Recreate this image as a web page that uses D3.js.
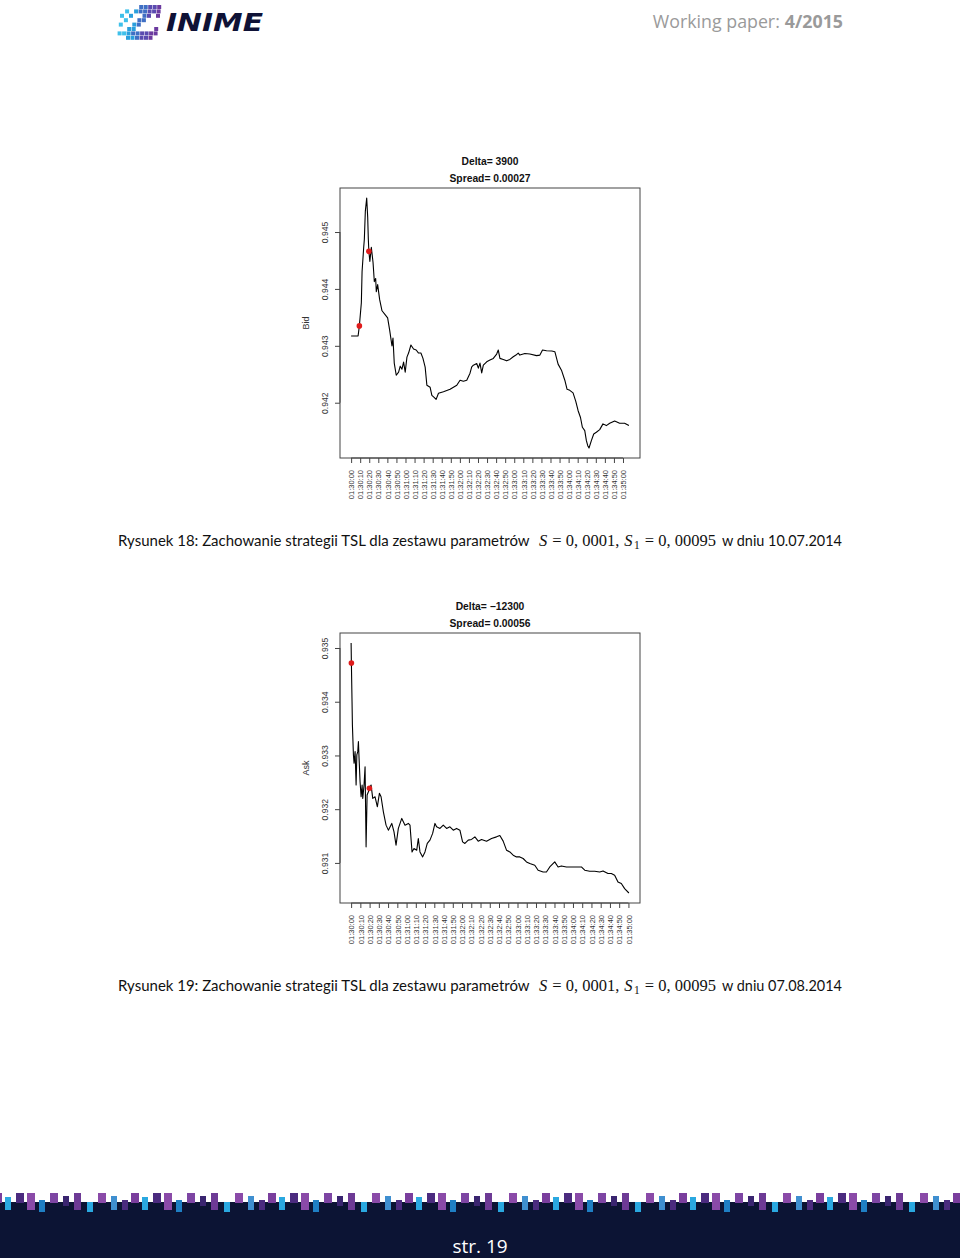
<!DOCTYPE html>
<html><head><meta charset="utf-8">
<script src="https://cdn.jsdelivr.net/npm/d3@7"></script>
<style>body{margin:0;background:#fff}svg{display:block}</style>
</head><body><svg id="page" width="960" height="1258"></svg>
<script>
// ---------- data ----------
const xTickSeconds = d3.range(0, 301, 10);
const xTickLabels = xTickSeconds.map(s => {
  const m = 30 + Math.floor(s / 60), sec = s % 60;
  return "01:" + String(m).padStart(2, "0") + ":" + String(sec).padStart(2, "0");
});

const bidSeconds = [0,7.7,9.1,11.3,12.1,13.9,14.6,15.7,17.2,18.3,19.0,19.6,20.7,22.3,24.2,25.6,27.1,27.8,29.3,31.5,34.1,37.7,40.3,42.5,45.1,46.2,47.6,49.8,52.4,54.2,56.1,57.9,59.7,61.6,63.4,66.0,68.9,71.8,74.4,77.0,79.2,81.7,83.6,87.2,89.1,91.6,93.8,96.4,101.9,109.2,112.9,116.6,120.2,123.9,127.6,131.2,133.1,134.9,138.6,140.4,142.2,144.1,145.9,149.6,153.2,156.9,160.6,162.4,164.2,167.9,171.6,175.2,178.9,181.9,184.4,186.2,191.7,197.2,204.6,208.3,211.2,215.6,221.5,224.8,228.4,232.1,235.8,238.3,241.3,244.9,247.9,250.4,253.1,255.2,257.8,259.6,261.1,262.5,265.1,267.7,270.6,274.3,277.9,281.6,285.3,290.8,296.3,301.8,306.5];
const bidPrice = [0.943173,0.943173,0.943350,0.943758,0.944306,0.944731,0.944873,0.945368,0.945598,0.945262,0.944873,0.944660,0.944483,0.944731,0.944465,0.944129,0.944182,0.943952,0.944076,0.943811,0.943616,0.943545,0.943492,0.943280,0.942996,0.943138,0.942696,0.942483,0.942537,0.942642,0.942589,0.942713,0.942537,0.942802,0.942873,0.943014,0.942943,0.942926,0.942873,0.942873,0.942784,0.942625,0.942306,0.942271,0.942129,0.942094,0.942058,0.942165,0.942191,0.942235,0.942271,0.942306,0.942395,0.942377,0.942395,0.942519,0.942630,0.942660,0.942690,0.942607,0.942696,0.942524,0.942660,0.942719,0.942749,0.942779,0.942855,0.942926,0.942779,0.942761,0.942736,0.942761,0.942807,0.942837,0.942873,0.942837,0.942864,0.942855,0.942828,0.942837,0.942926,0.942913,0.942908,0.942896,0.942678,0.942572,0.942395,0.942235,0.942218,0.942173,0.942023,0.941864,0.941740,0.941568,0.941510,0.941333,0.941244,0.941204,0.941333,0.941451,0.941480,0.941527,0.941628,0.941598,0.941639,0.941678,0.941639,0.941639,0.941598];
const bidMarkSeconds = [9.1, 19.6];
const bidMarkPrice = [0.94335, 0.94466];
const bidTicks = [0.942, 0.943, 0.944, 0.945];

const askSeconds = [0,0.3,1.0,1.4,2.5,3.2,4.3,5.4,6.2,7.2,7.9,8.6,9.7,10.8,11.9,12.6,14.0,15.1,16.2,17.3,18.7,19.8,21.6,23.4,25.9,28.4,30.6,32.4,34.9,37.8,40.3,44.0,46.4,48.6,51.1,54.8,58.3,61.9,63.7,65.9,68.0,71.0,72.7,74.5,77.4,79.9,82.4,85.3,88.2,90.7,92.5,96.1,99.7,103.3,106.9,110.5,114.1,117.7,120.6,123.1,126.7,130.3,133.9,137.5,141.1,146.5,151.9,157.3,160.9,164.5,168.1,171.7,175.3,178.9,182.5,186.1,189.7,193.3,198.7,202.3,207.7,211.3,214.9,220.3,223.9,227.5,232.9,238.3,243.7,249.1,252.7,258.1,263.5,268.9,272.5,277.9,281.5,285.1,288.7,292.3,295.9,300.5];
const askPrice = [0.935093,0.934720,0.934000,0.933569,0.933009,0.932855,0.933071,0.932450,0.933009,0.933071,0.933257,0.932948,0.932511,0.932231,0.932450,0.932201,0.932450,0.932791,0.931299,0.932263,0.932325,0.932388,0.932450,0.932201,0.932231,0.932045,0.932295,0.932231,0.931951,0.931703,0.931610,0.931735,0.931578,0.931330,0.931642,0.931828,0.931703,0.931735,0.931703,0.931205,0.931269,0.931237,0.931455,0.931205,0.931112,0.931205,0.931362,0.931424,0.931549,0.931735,0.931672,0.931642,0.931703,0.931642,0.931672,0.931610,0.931642,0.931610,0.931392,0.931362,0.931424,0.931437,0.931485,0.931405,0.931437,0.931405,0.931455,0.931485,0.931511,0.931405,0.931237,0.931205,0.931144,0.931112,0.931112,0.931082,0.931019,0.930989,0.930957,0.930864,0.930832,0.930832,0.930925,0.931019,0.930925,0.930944,0.930925,0.930925,0.930925,0.930925,0.930864,0.930845,0.930845,0.930832,0.930851,0.930802,0.930802,0.930771,0.930646,0.930616,0.930522,0.930440];
const askMarkSeconds = [0.3, 19.8];
const askMarkPrice = [0.93472, 0.932388];
const askTicks = [0.931, 0.932, 0.933, 0.934, 0.935];

// header / footer decoration
const logoCells = [ // [col,row,color]
  [4,0,2],[5,0,2],[6,0,3],[7,0,3],[8,0,4],[3,1,1],[4,1,2],[5,1,2],[6,1,3],[7,1,3],[8,1,4],
  [8,2,4],[1,1,0],[0,2,0],[2,2,1],[5,2,2],[6,2,3],[4,3,2],[5,3,2],[1,3,0],[3,4,1],[4,4,2],
  [0,4,0],[2,5,1],[3,5,1],[8,5,4],[1,6,0],[2,6,1],[3,6,2],[4,6,2],[5,6,3],[6,6,3],[7,6,4],[8,6,4],
  [2,7,1],[3,7,1],[4,7,2],[5,7,3],[6,7,3],[7,7,4],[0,6,0]
];
const logoColors = ["#3fc0ea", "#2a9fdc", "#3f6fc4", "#5a4bb0", "#6b3a9f"];
const footerBars = [ // [offset,width,top,height,color]
  [0,8,1193,10,"#7a3e9d"],[11,6,1197,13,"#2aa8e0"],[22,8,1193,10,"#4b2b7f"],[33,8,1193,17,"#8a4aa8"],
  [45,6,1200,12,"#1f7fc4"],[56,8,1193,10,"#7d45a3"],[69,6,1196,10,"#3a2570"],[80,7,1193,17,"#6d3a95"],
  [93,6,1202,10,"#2aa8e0"],[104,8,1193,10,"#8a4aa8"],[117,6,1196,14,"#3f8fd0"],[128,6,1200,10,"#4b2b7f"]
];
const footerPeriod = 137;

// ---------- drawing ----------
const svg = d3.select("#page");
svg.append("rect").attr("width", 960).attr("height", 1258).attr("fill", "#fff");

// header logo
const logo = svg.append("g").attr("transform", "translate(117,5)");
logo.selectAll("rect").data(logoCells).join("rect")
  .attr("x", d => d[0] * 4.5 + (7 - d[1]) * 0.6).attr("y", d => d[1] * 4.4)
  .attr("width", 4).attr("height", 4).attr("fill", d => logoColors[d[2]]);
svg.append("text").attr("x", 166).attr("y", 31).text("INIME")
  .attr("font-family", "'DejaVu Sans'").attr("font-weight", "bold").attr("font-style", "italic")
  .attr("font-size", 25).attr("fill", "#0f1236").attr("textLength", 97).attr("lengthAdjust", "spacingAndGlyphs");

const h2 = svg.append("text").attr("x", 843).attr("y", 28).attr("text-anchor", "end").attr("font-family", "'Open Sans'")
  .attr("font-size", 17.8).attr("font-weight", "bold").attr("fill", "#9a9a9a").text("4/2015");
const h2w = h2.node().getComputedTextLength();
svg.append("text").attr("x", 843 - h2w - 5).attr("y", 28).attr("text-anchor", "end").attr("font-family", "'Open Sans'")
  .attr("font-size", 17.8).attr("fill", "#9a9a9a").text("Working paper:");

function drawPanel(cfg) {
  const { left, top, width, height, times, values, markT, markV, yTicks, yLabel, title1, title2 } = cfg;
  const g = svg.append("g");
  const [t0, t1] = d3.extent(times), tp = (t1 - t0) * 0.04;
  const [v0, v1] = d3.extent(values), vp = (v1 - v0) * 0.04;
  const x = d3.scaleLinear().domain([t0 - tp, t1 + tp]).range([left, left + width]);
  const y = d3.scaleLinear().domain([v0 - vp, v1 + vp]).range([top + height, top]);

  const cx = left + width / 2;
  [[title1, top - 23], [title2, top - 6]].forEach(([t, yy]) => {
    g.append("text").attr("x", cx).attr("y", yy).attr("text-anchor", "middle")
      .attr("font-family", "'Liberation Sans', Arial, sans-serif").attr("font-weight", "bold")
      .attr("font-size", 10.3).attr("fill", "#111").text(t);
  });

  const pts = times.map((t, i) => [t, values[i]]);
  g.append("path").datum(pts)
    .attr("d", d3.line().x(d => x(d[0])).y(d => y(d[1])))
    .attr("fill", "none").attr("stroke", "#000").attr("stroke-width", 1.1).attr("stroke-linejoin", "round");

  g.selectAll("circle.mk").data(markT.map((t, i) => [t, markV[i]])).join("circle")
    .attr("class", "mk").attr("cx", d => x(d[0])).attr("cy", d => y(d[1])).attr("r", 2.8)
    .attr("fill", "#e01b1b");

  g.append("rect").attr("x", left).attr("y", top).attr("width", width).attr("height", height)
    .attr("fill", "none").attr("stroke", "#444").attr("stroke-width", 1);

  const ya = g.append("g").attr("transform", `translate(${left},0)`)
    .call(d3.axisLeft(y).tickValues(yTicks).tickFormat(d3.format(".3f")).tickSize(5).tickSizeOuter(0));
  ya.select(".domain").remove();
  ya.selectAll(".tick line").attr("stroke", "#444");
  ya.selectAll(".tick text").attr("x", null).attr("dy", null)
    .attr("transform", "translate(-12.5,0) rotate(-90)").attr("text-anchor", "middle")
    .attr("font-family", "'Liberation Sans', Arial, sans-serif").attr("font-size", 8.6).attr("fill", "#333");
  g.append("line")
    .attr("x1", left).attr("x2", left).attr("y1", y(yTicks[0])).attr("y2", y(yTicks[yTicks.length - 1]))
    .attr("stroke", "#444");

  const xa = g.append("g").attr("transform", `translate(0,${top + height})`)
    .call(d3.axisBottom(x).tickValues(xTickSeconds).tickFormat((d, i) => xTickLabels[i]).tickSize(5).tickSizeOuter(0));
  xa.select(".domain").remove();
  xa.selectAll(".tick line").attr("stroke", "#444");
  xa.selectAll(".tick text").attr("y", null).attr("dy", null)
    .attr("transform", "translate(2.7,12) rotate(-90)").attr("text-anchor", "end")
    .attr("font-family", "'Liberation Sans', Arial, sans-serif").attr("font-size", 7.5).attr("fill", "#333");
  g.append("line")
    .attr("x1", x(xTickSeconds[0])).attr("x2", x(xTickSeconds[xTickSeconds.length - 1]))
    .attr("y1", top + height).attr("y2", top + height).attr("stroke", "#444");

  g.append("text").attr("transform", `translate(${left - 31},${top + height / 2}) rotate(-90)`)
    .attr("text-anchor", "middle").attr("font-family", "'Liberation Sans', Arial, sans-serif")
    .attr("font-size", 9).attr("fill", "#333").text(yLabel);
}

drawPanel({ left: 340, top: 188, width: 300, height: 270, times: bidSeconds, values: bidPrice,
  markT: bidMarkSeconds, markV: bidMarkPrice, yTicks: bidTicks, yLabel: "Bid",
  title1: "Delta= 3900", title2: "Spread= 0.00027" });
drawPanel({ left: 340, top: 633, width: 300, height: 270, times: askSeconds, values: askPrice,
  markT: askMarkSeconds, markV: askMarkPrice, yTicks: askTicks, yLabel: "Ask",
  title1: "Delta= \u221212300", title2: "Spread= 0.00056" });

// fit a sans text to a target width by adjusting font size (no glyph stretching)
function fitText(x, yb, txt, target) {
  const t = svg.append("text").attr("x", x).attr("y", yb).attr("font-family", "Lato, 'Open Sans', sans-serif")
    .attr("font-size", 16).attr("fill", "#111").text(txt);
  const w = t.node().getComputedTextLength();
  t.attr("font-size", 16 * target / w);
  return t;
}
function caption(yb, num, date) {
  fitText(118, yb, `Rysunek ${num}: Zachowanie strategii TSL dla zestawu parametrów`, 412);
  const pieces = [ // [text, italic, subscript, gap after]
    ["S", true, 0, 5], ["= 0, 0001,", false, 0, 5], ["S", true, 0, 1.5], ["1", false, 1, 5], ["= 0, 00095", false, 0, 0]
  ];
  let cx = 539;
  pieces.forEach(([txt, it, sub, gap]) => {
    const t = svg.append("text").attr("x", cx).attr("y", yb + (sub ? 3 : 0))
      .attr("font-family", "'Liberation Serif', serif").attr("font-size", sub ? 11.5 : 16.5)
      .attr("fill", "#111").attr("font-style", it ? "italic" : "normal").text(txt);
    cx += t.node().getComputedTextLength() + gap;
  });
  fitText(722, yb, `w dniu ${date}`, 120);
}
caption(546, 18, "10.07.2014");
caption(991, 19, "07.08.2014");

// footer
svg.append("rect").attr("x", 0).attr("y", 1202).attr("width", 960).attr("height", 56).attr("fill", "#0c1434");
const reps = d3.range(0, Math.ceil(960 / footerPeriod) + 1);
const fb = svg.append("g");
reps.forEach(r => {
  fb.append("g").selectAll("rect").data(footerBars).join("rect")
    .attr("x", d => r * footerPeriod + d[0] - 6).attr("y", d => d[2])
    .attr("width", d => d[1]).attr("height", d => d[3]).attr("fill", d => d[4]);
});
svg.append("text").attr("x", 480).attr("y", 1253).attr("text-anchor", "middle")
  .attr("font-family", "'Open Sans', sans-serif").attr("font-size", 19).attr("fill", "#fff").text("str. 19");
</script>
</body></html>
